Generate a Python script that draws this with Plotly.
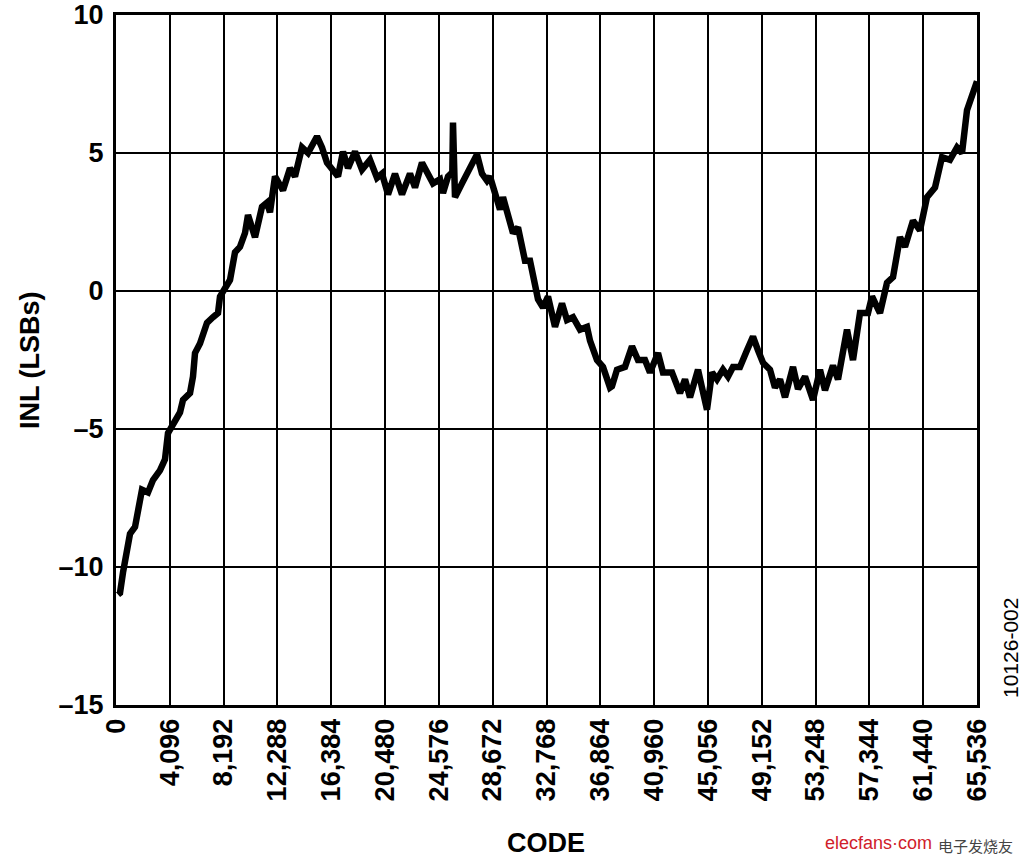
import plotly.graph_objects as go

# INL vs code
code = [152, 304, 533, 837, 1066, 1446, 1675, 1979, 2436, 2816, 3349, 3729, 3958, 4339,
        4871, 5100, 5633, 5861, 6013, 6394, 6927, 7383, 7764, 7916, 8297, 8677, 9058,
        9438, 9819, 10047, 10580, 11113, 11494, 11722, 12102, 12711, 13244, 13625,
        14158, 14614, 15299, 15680, 16060, 16517, 16898, 17278, 17659, 18192, 18725,
        19333, 19866, 20247, 20704, 21236, 21769, 22378, 22759, 23291, 23748, 24129,
        24662, 24890, 25271, 25600, 25650, 25700, 25803, 26336, 26717, 27097, 27478,
        27858, 28239, 28467, 28848, 29229, 29457, 29837, 29990, 30218, 30599, 31131,
        31512, 31741, 32121, 32502, 32882, 33415, 33948, 34328, 34785, 35318, 35851,
        36079, 36612, 37069, 37601, 37753, 38134, 38743, 39276, 39733, 40265, 40646,
        41255, 41635, 42320, 42929, 43310, 43691, 44300, 44604, 44985, 45365, 45746,
        46202, 46583, 46964, 47496, 48029, 48486, 48867, 49247, 49780, 50161, 50541,
        50922, 51531, 51911, 52444, 53053, 53586, 53966, 54575, 54956, 55641, 56097,
        56630, 57239, 57544, 58153, 58686, 59142, 59675, 60056, 60664, 61197, 61730,
        62339, 62872, 63481, 64014, 64394, 64775, 65155, 65384, 65536]
inl = [-11.0, -10.94, -10.2, -9.3, -8.8, -8.55, -7.8, -7.2, -7.3, -6.85, -6.5, -6.1, -5.15, -4.8,
       -4.4, -3.95, -3.7, -3.1, -2.25, -1.9, -1.15, -0.95, -0.8, -0.2, 0.15, 0.4, 1.4,
       1.6, 2.1, 2.75, 1.95, 3.05, 3.2, 2.85, 4.15, 3.65, 4.45, 4.15,
       5.2, 5.0, 5.6, 5.2, 4.65, 4.4, 4.15, 5.05, 4.45, 5.05, 4.4,
       4.75, 4.1, 4.25, 3.5, 4.25, 3.5, 4.25, 3.75, 4.65, 4.2, 3.9,
       4.05, 3.55, 4.15, 4.3, 6.1, 3.6, 3.4, 3.9, 4.25, 4.5, 4.95,
       4.25, 4.0, 4.15, 3.55, 2.95, 3.4, 2.7, 2.6, 2.1, 2.3, 1.1,
       1.1, 0.5, -0.3, -0.6, -0.2, -1.3, -0.45, -1.05, -0.95, -1.4, -1.3,
       -1.8, -2.5, -2.75, -3.5, -3.45, -2.85, -2.75, -2.0, -2.5, -2.5, -2.95,
       -2.25, -2.95, -2.95, -3.7, -3.2, -3.85, -2.85, -3.5, -4.3, -2.95, -3.2,
       -2.85, -3.1, -2.75, -2.75, -2.15, -1.65, -2.15, -2.6, -2.85, -3.5, -3.2,
       -3.85, -2.75, -3.55, -3.1, -3.95, -2.85, -3.6, -2.7, -3.2, -1.4, -2.5,
       -0.8, -0.8, -0.2, -0.8, 0.3, 0.5, 1.95, 1.6, 2.55, 2.2, 3.4,
       3.75, 4.85, 4.75, 5.2, 5.0, 6.55, 7.05, 7.4, 7.6]

x_ticks = [0, 4096, 8192, 12288, 16384, 20480, 24576, 28672, 32768, 36864, 40960,
           45056, 49152, 53248, 57344, 61440, 65536]
x_labels = ["0", "4,096", "8,192", "12,288", "16,384", "20,480", "24,576", "28,672",
            "32,768", "36,864", "40,960", "45,056", "49,152", "53,248", "57,344",
            "61,440", "65,536"]
y_ticks = [-15, -10, -5, 0, 5, 10]
y_labels = ["\u201315", "\u201310", "\u20135", "0", "5", "10"]

FONT = "Liberation Sans, Arial, sans-serif"

fig = go.Figure()
fig.add_trace(go.Scatter(x=code, y=inl, mode="lines",
                         line=dict(color="black", width=6.5), hoverinfo="skip"))

L, R, T, B = 116, 47, 15, 160
W, H = 1024, 865
pw, ph = W - L - R, H - T - B

axis_common = dict(showgrid=True, gridcolor="black", gridwidth=1.6, zeroline=False,
                   showline=True, linecolor="black", linewidth=3, mirror=True,
                   automargin=False,
                   ticks="", tickfont=dict(family=FONT, size=27, color="black", weight="bold"))

fig.update_xaxes(range=[0, 65536], tickmode="array", tickvals=x_ticks, ticktext=x_labels,
                 tickangle=-90, ticklabelstandoff=0, **axis_common)
fig.update_yaxes(range=[-15, 10], tickmode="array", tickvals=y_ticks, ticktext=y_labels,
                 ticklabelstandoff=4, **axis_common)

def px(X):
    return (X - L) / pw

def py(Y):
    return (H - B - Y) / ph

def note(text, X, Y, font, angle=0):
    return dict(text=text, x=px(X), y=py(Y), xref="paper", yref="paper",
                xanchor="center", yanchor="middle", showarrow=False,
                textangle=angle, font=font)

fig.update_layout(
    width=W, height=H,
    margin=dict(l=L, r=R, t=T, b=B),
    paper_bgcolor="white", plot_bgcolor="white",
    showlegend=False,
    annotations=[
        note("INL (LSBs)", 30, 360, dict(family=FONT, size=27, color="black", weight="bold"), -90),
        note("CODE", 546, 843, dict(family=FONT, size=27, color="black", weight="bold")),
        note("10126-002", 1010, 648, dict(family=FONT, size=21, color="black"), -90),
        note("elecfans\u00b7com", 878, 843, dict(family=FONT, size=18, color="#d0202a")),
        note("电子发烧友", 975, 845, dict(family="Noto Sans CJK SC", size=15, color="#444444")),
    ],
)

fig.write_html("out.html", config={"displayModeBar": False},
               post_script="document.body.style.margin='0';")
